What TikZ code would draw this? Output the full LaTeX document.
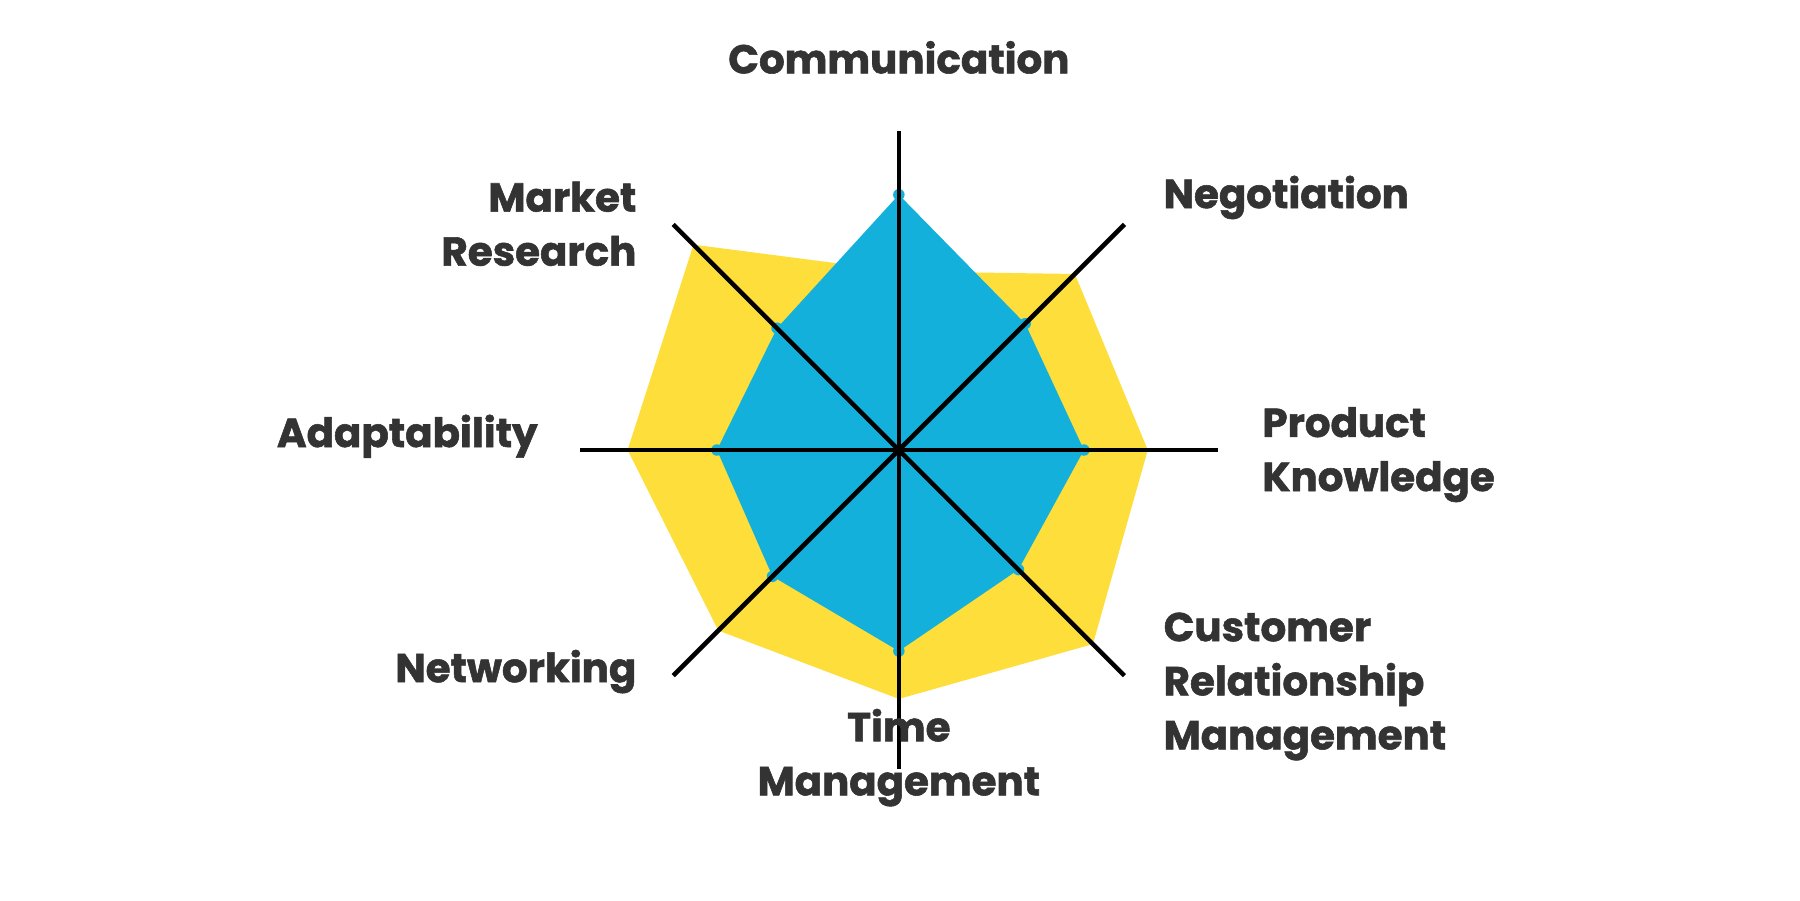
\documentclass[tikz,border=0pt]{standalone}
\usepackage{fontspec}
\setmainfont{Poppins}[FakeBold=1.4]
\usepackage{tikz}
\usetikzlibrary{calc,positioning}
\definecolor{skyblue}{HTML}{12B0DB}
\definecolor{sunyellow}{HTML}{FDDE3A}
\definecolor{inkgray}{HTML}{333333}
\tikzset{
  lbl/.style={text=inkgray,font=\fontsize{10}{13.4}\selectfont\bfseries,inner sep=0pt},
  spoke/.style={line width=1.1pt,black}
}
\begin{document}
\begin{tikzpicture}[x=1cm,y=1cm]
        \useasboundingbox (0,0) rectangle (15.68,7.84);
        \coordinate (o) at (7.83,3.92);
        \def\R{2.78}

        % yellow and blue areas (values per axis, from Communication clockwise)
        \fill [sunyellow] ($(o)+(90:0.56*\R)$) -- ($(o)+(45:0.78*\R)$) -- ($(o)+(0:0.78*\R)$) -- ($(o)+(-45:0.86*\R)$)
            -- ($(o)+(-90:0.78*\R)$) -- ($(o)+(-135:0.80*\R)$) -- ($(o)+(180:0.85*\R)$) -- ($(o)+(135:0.91*\R)$) -- cycle;
        \fill [skyblue] ($(o)+(90:0.80*\R)$) -- ($(o)+(45:0.56*\R)$) -- ($(o)+(0:0.58*\R)$) -- ($(o)+(-45:0.53*\R)$)
            -- ($(o)+(-90:0.63*\R)$) -- ($(o)+(-135:0.56*\R)$) -- ($(o)+(180:0.57*\R)$) -- ($(o)+(135:0.54*\R)$) -- cycle;
        \foreach \a/\v in {90/0.80,45/0.56,0/0.58,-45/0.53,-90/0.63,-135/0.56,180/0.57,135/0.54}
            \fill [skyblue] ($(o)+(\a:\v*\R)$) circle (0.05);

        % spokes
        \foreach \a/\n in {90/c,45/n,0/p,-45/r,-90/t,-135/w,180/d,135/m}
            \coordinate (\n) at ($(o)+(\a:\R)$);
        \foreach \n/\m in {c/t,n/w,p/d,r/m}
            \draw [spoke] (\n) -- (\m);

        % labels
        \node [lbl] (comm) at (7.83,7.34) {Communication};
        \node [lbl,anchor=west] (nego) at (10.13,6.12) {Negotiation};
        \node [lbl,anchor=west,align=left] (prod) at (10.99,3.88) {Product\\Knowledge};
        \node [lbl,anchor=west,align=left] (crm) at (10.13,1.86) {Customer\\Relationship\\Management};
        \node [lbl,align=center] (time) at (7.83,1.24) {Time\\Management};
        \node [lbl,anchor=east] (netw) at (5.55,1.99) {Networking};
        \node [lbl,anchor=east] (adap) at (4.69,4.04) {Adaptability};
        \node [lbl,anchor=east,align=right] (mark) at (5.55,5.89) {Market\\Research};
\end{tikzpicture}
\end{document}
